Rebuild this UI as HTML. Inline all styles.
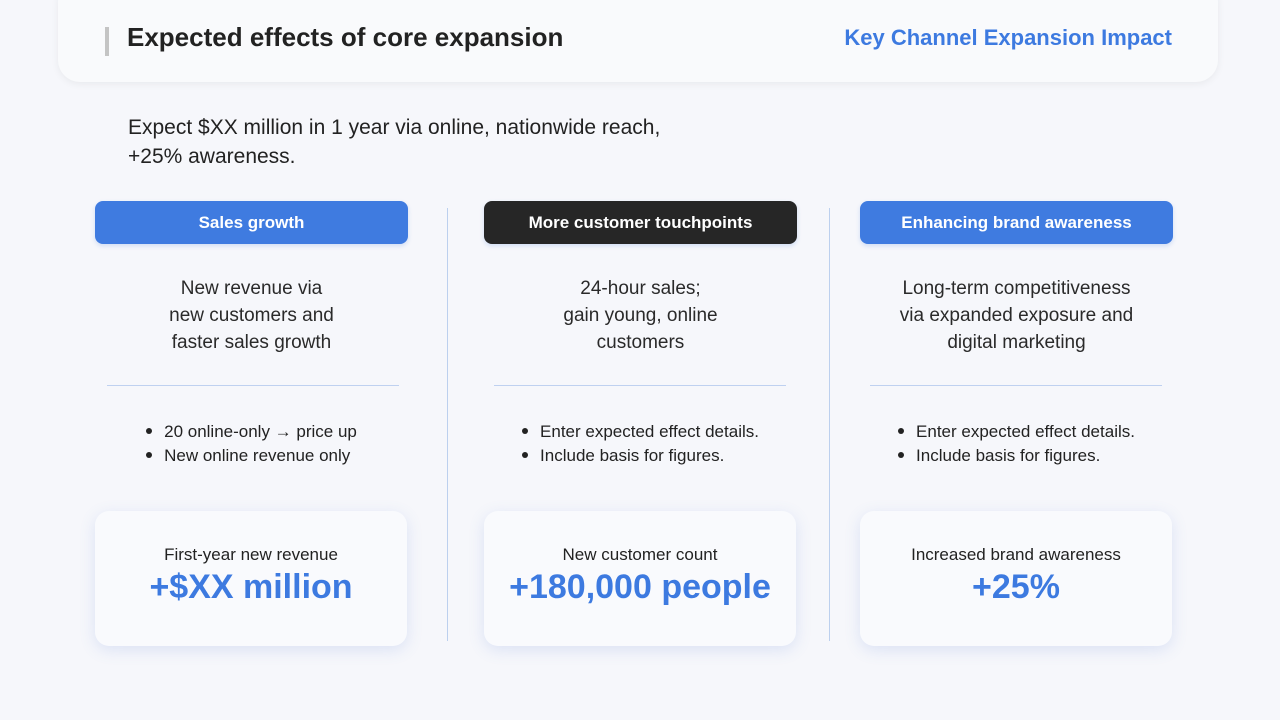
<!DOCTYPE html>
<html><head><meta charset="utf-8"><style>
*{margin:0;padding:0;box-sizing:border-box}
body{width:1280px;height:720px;background:#f6f7fb;font-family:"Liberation Sans","Noto Sans CJK JP",sans-serif;position:relative;overflow:hidden;color:#222}
.hdr{position:absolute;left:58px;top:-20px;width:1160px;height:102px;background:#f9fafc;border-radius:22px;box-shadow:0 2px 8px rgba(0,0,0,0.06)}
.bar{position:absolute;left:105px;top:27px;width:4px;height:29px;background:#c4c4c4}
.t1{position:absolute;left:127px;top:22px;font-size:26px;font-weight:bold;color:#222}
.t2{position:absolute;right:108px;top:25px;font-size:22px;font-weight:bold;color:#3d7ae0}
.intro{position:absolute;left:128px;top:113px;font-size:21px;line-height:29px;color:#222}
.pill{position:absolute;top:201px;width:313px;height:43px;border-radius:8px;color:#fff;font-size:17px;font-weight:bold;text-align:center;line-height:43px;box-shadow:0 2px 5px rgba(60,120,220,0.2)}
.vd{position:absolute;top:208px;width:1px;height:433px;background:#bcd0ee}
.desc{position:absolute;top:275px;width:313px;text-align:center;font-size:19px;line-height:27px;color:#2a2a2a}
.hl{position:absolute;top:385px;width:292px;height:1px;background:#bfd1f0}
.bul{position:absolute;top:420px;width:313px;display:flex;justify-content:center}
.bul ul{list-style:none;font-size:17px;line-height:24px;color:#222}
.bul li:before{content:"";display:inline-block;width:6px;height:6px;border-radius:50%;background:#222;margin:0 12px 3px 0;vertical-align:middle}
.card{position:absolute;top:511px;width:312px;height:135px;border-radius:14px;background:#f9fafd;box-shadow:0 4px 16px rgba(80,120,210,0.16);text-align:center}
.card .l{margin-top:34px;font-size:17px;color:#222}
.card .v{font-size:34px;font-weight:bold;color:#3d7ae0;line-height:44px}
</style></head><body>
<div class="hdr"></div>
<div class="bar"></div>
<div class="t1">Expected effects of core expansion</div>
<div class="t2">Key Channel Expansion Impact</div>
<div class="intro">Expect $XX million in 1 year via online, nationwide reach,<br>+25% awareness.</div>

<div class="pill" style="left:95px;background:#3f7be0">Sales growth</div>
<div class="pill" style="left:484px;background:#262626">More customer touchpoints</div>
<div class="pill" style="left:860px;background:#3f7be0">Enhancing brand awareness</div>

<div class="vd" style="left:447px"></div>
<div class="vd" style="left:829px"></div>

<div class="desc" style="left:95px">New revenue via<br>new customers and<br>faster sales growth</div>
<div class="desc" style="left:484px">24-hour sales;<br>gain young, online<br>customers</div>
<div class="desc" style="left:860px">Long-term competitiveness<br>via expanded exposure and<br>digital marketing</div>

<div class="hl" style="left:107px"></div>
<div class="hl" style="left:494px"></div>
<div class="hl" style="left:870px"></div>

<div class="bul" style="left:95px"><ul><li>20 online-only → price up</li><li>New online revenue only</li></ul></div>
<div class="bul" style="left:484px"><ul><li>Enter expected effect details.</li><li>Include basis for figures.</li></ul></div>
<div class="bul" style="left:860px"><ul><li>Enter expected effect details.</li><li>Include basis for figures.</li></ul></div>

<div class="card" style="left:95px"><div class="l">First-year new revenue</div><div class="v">+$XX million</div></div>
<div class="card" style="left:484px"><div class="l">New customer count</div><div class="v">+180,000 people</div></div>
<div class="card" style="left:860px"><div class="l">Increased brand awareness</div><div class="v">+25%</div></div>
</body></html>
